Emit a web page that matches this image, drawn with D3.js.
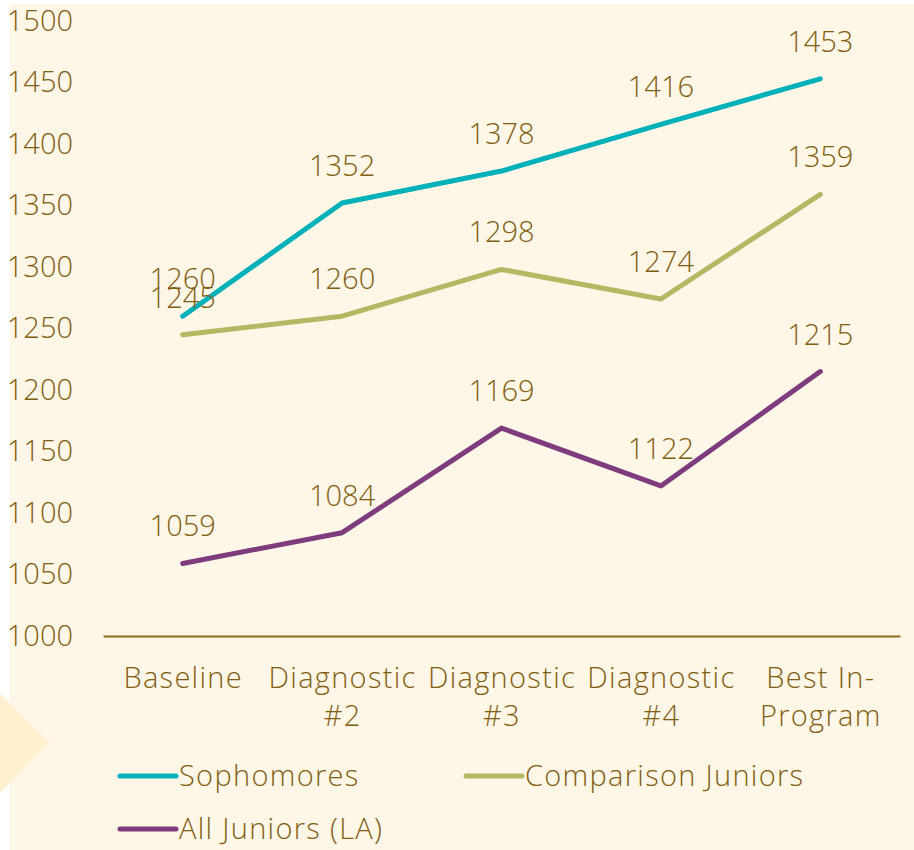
<!DOCTYPE html>
<html>
<head>
<meta charset="utf-8">
<script src="https://cdn.jsdelivr.net/npm/d3@7"></script>
<style>
  body { margin: 0; background: #ffffff; }
  text { font-family: "Open Sans", Lato, sans-serif; font-weight: 300; }
  .words { letter-spacing: 1.3px; }
</style>
</head>
<body>
<div id="chart"></div>
<script>
// data
const categories = ["Baseline", "Diagnostic #2", "Diagnostic #3", "Diagnostic #4", "Best In-Program"]
const categoryLines = [["Baseline"], ["Diagnostic", "#2"], ["Diagnostic", "#3"], ["Diagnostic", "#4"], ["Best In-", "Program"]]
const sophomores = [1260, 1352, 1378, 1416, 1453]
const comparisonJuniors = [1245, 1260, 1298, 1274, 1359]
const allJuniors = [1059, 1084, 1169, 1122, 1215]
const yTicks = [1000, 1050, 1100, 1150, 1200, 1250, 1300, 1350, 1400, 1450, 1500]

const seriesNames = ["Sophomores", "Comparison Juniors", "All Juniors (LA)"]
const seriesValues = [sophomores, comparisonJuniors, allJuniors]
const seriesColors = ["#00b1b9", "#b3b863", "#7e3b7d"]

const textColor = "#7f6012"
const fontSize = "29px"

// dimensions
const dimensions = {
    width: 914,
    height: 850,
    margin: { top: 21, right: 14, bottom: 214, left: 103 }
}
dimensions.boundedWidth = dimensions.width - dimensions.margin.left - dimensions.margin.right
dimensions.boundedHeight = dimensions.height - dimensions.margin.top - dimensions.margin.bottom

// canvas
const wrapper = d3.select("#chart")
    .append("svg")
    .attr("width", dimensions.width)
    .attr("height", dimensions.height)

wrapper.append("rect")
    .attr("x", 10).attr("y", 4)
    .attr("width", dimensions.width - 10)
    .attr("height", dimensions.height - 4)
    .attr("fill", "#fef6e6")

// faint arrow decoration on the left edge
wrapper.append("path")
    .attr("d", "M0,693 L49,743 L0,793 Z")
    .attr("fill", "#fff0d2")

const bounds = wrapper.append("g")
    .attr("transform", `translate(${dimensions.margin.left},${dimensions.margin.top})`)

// scales
const xScale = d3.scalePoint()
    .domain(categories)
    .range([0, dimensions.boundedWidth])
    .padding(0.5)

const yScale = d3.scaleLinear()
    .domain([1000, 1500])
    .range([dimensions.boundedHeight, 0])

// axes
const yAxisGenerator = d3.axisLeft(yScale)
    .tickValues(yTicks)
    .tickSize(0)
    .tickPadding(30)
    .tickFormat(d3.format("d"))

const yAxis = bounds.append("g").call(yAxisGenerator)
yAxis.select(".domain").remove()
yAxis.selectAll("text")
    .attr("fill", textColor)
    .style("font-size", fontSize)
    .style("font-family", "'Open Sans', Lato, sans-serif")

const xAxisGenerator = d3.axisBottom(xScale)
    .tickSize(0)
    .tickFormat("")

const xAxis = bounds.append("g")
    .attr("transform", `translate(0,${dimensions.boundedHeight})`)
    .call(xAxisGenerator)
xAxis.select(".domain")
    .attr("stroke", "#8a6d1c")
    .attr("stroke-width", 2)

xAxis.selectAll(".tick")
    .each(function(d, i) {
        const t = d3.select(this).append("text")
            .attr("class", "words")
            .attr("fill", textColor)
            .attr("text-anchor", "middle")
            .style("font-size", fontSize)
        categoryLines[i].forEach((line, j) => {
            t.append("tspan")
                .attr("x", 0)
                .attr("y", 52 + j * 38)
                .text(line)
        })
    })

// lines
const lineGenerator = d3.line()
    .x((d, i) => xScale(categories[i]))
    .y(d => yScale(d))

seriesValues.forEach((values, s) => {
    bounds.append("path")
        .datum(values)
        .attr("d", lineGenerator)
        .attr("fill", "none")
        .attr("stroke", seriesColors[s])
        .attr("stroke-width", 5)
        .attr("stroke-linecap", "round")
        .attr("stroke-linejoin", "round")
})

// data labels
seriesValues.forEach(values => {
    bounds.append("g")
        .selectAll("text")
        .data(values)
      .enter().append("text")
        .attr("x", (d, i) => xScale(categories[i]))
        .attr("y", d => yScale(d) - 27)
        .attr("text-anchor", "middle")
        .attr("fill", textColor)
        .style("font-size", fontSize)
        .text(d => d)
})

// legend
const legendItems = [
    { x: 120, y: 776 },
    { x: 466, y: 776 },
    { x: 120, y: 829 }
]
const legend = wrapper.append("g")
legendItems.forEach((pos, s) => {
    const item = legend.append("g")
        .attr("transform", `translate(${pos.x},${pos.y})`)
    item.append("line")
        .attr("x1", 0).attr("x2", 56)
        .attr("y1", 0).attr("y2", 0)
        .attr("stroke", seriesColors[s])
        .attr("stroke-width", 5)
        .attr("stroke-linecap", "round")
    item.append("text")
        .attr("class", "words")
        .attr("x", 59)
        .attr("y", 10)
        .attr("fill", textColor)
        .style("font-size", fontSize)
        .text(seriesNames[s])
})
</script>
</body>
</html>
